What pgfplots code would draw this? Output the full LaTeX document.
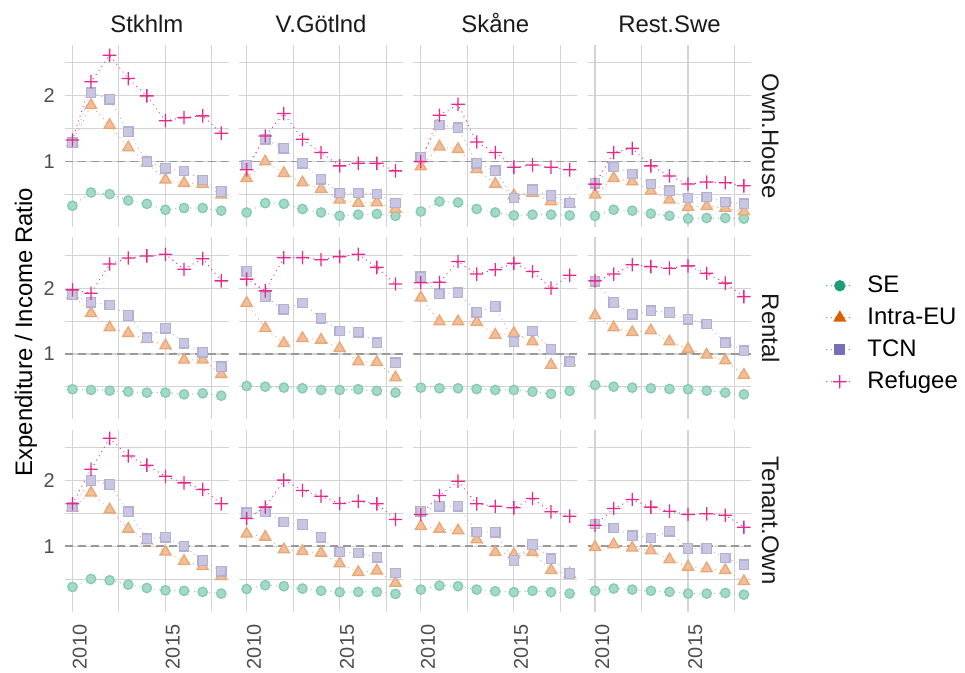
\documentclass[border=0pt]{standalone}
\usepackage{fontspec}
\setmainfont{Liberation Sans}
\usepackage{pgfplots}
\usepackage{pgfplotstable}
\pgfplotsset{compat=1.18}
\definecolor{cSE}{HTML}{1B9E77}
\definecolor{cEU}{HTML}{D95F02}
\definecolor{cTCN}{HTML}{7570B3}
\definecolor{cREF}{HTML}{E7298A}
\colorlet{fSE}{cSE!40!white}
\colorlet{fEU}{cEU!40!white}
\colorlet{fTCN}{cTCN!40!white}
\colorlet{dSE}{cSE!55!white}
\colorlet{dEU}{cEU!55!white}
\colorlet{dTCN}{cTCN!55!white}
\definecolor{gridc}{HTML}{D3D3D3}
\definecolor{ticktext}{HTML}{4D4D4D}
\definecolor{striptext}{HTML}{1A1A1A}

\pgfdeclareplotmark{fplus}{%
  \pgfpathrectangle{\pgfpoint{-\pgfplotmarksize}{-0.65bp}}{\pgfpoint{2\pgfplotmarksize}{1.3bp}}%
  \pgfpathrectangle{\pgfpoint{-0.65bp}{-\pgfplotmarksize}}{\pgfpoint{1.3bp}{2\pgfplotmarksize}}%
  \pgfusepathqfill}

% Own.House
\pgfplotstableread{
year SE EU TCN REF
2010 0.628 1.22 1.22 1.256
2011 0.722 1.81 2.07 2.32
2012 0.71 1.47 1.93 3.07
2013 0.664 1.16 1.37 2.40
2014 0.641 0.99 1.00 2.00
2015 0.602 0.825 0.933 1.54
2016 0.613 0.797 0.907 1.59
2017 0.613 0.79 0.825 1.62
2018 0.596 0.705 0.73 1.35
}\hSt
\pgfplotstableread{
year SE EU TCN REF
2010 0.585 0.84 0.966 0.917
2011 0.646 1.0 1.265 1.31
2012 0.641 0.885 1.15 1.66
2013 0.607 0.802 0.983 1.265
2014 0.585 0.749 0.831 1.10
2015 0.565 0.669 0.718 0.956
2016 0.572 0.646 0.718 0.983
2017 0.576 0.65 0.71 0.983
2018 0.565 0.607 0.646 0.907
}\hVG
\pgfplotstableread{
year SE EU TCN REF
2010 0.591 0.949 1.05 1.0
2011 0.657 1.17 1.47 1.63
2012 0.65 1.14 1.43 1.83
2013 0.607 0.923 0.983 1.23
2014 0.585 0.79 0.91 1.10
2015 0.567 0.70 0.681 0.943
2016 0.572 0.718 0.743 0.966
2017 0.572 0.657 0.70 0.943
2018 0.567 0.641 0.646 0.917
}\hSk
\pgfplotstableread{
year SE EU TCN REF
2010 0.565 0.705 0.797 0.789
2011 0.602 0.84 0.949 1.10
2012 0.596 0.81 0.879 1.15
2013 0.578 0.735 0.79 0.956
2014 0.565 0.669 0.735 0.86
2015 0.548 0.619 0.681 0.79
2016 0.552 0.625 0.688 0.806
2017 0.552 0.613 0.653 0.80
2018 0.548 0.591 0.641 0.775
}\hRS
% Rental
\pgfplotstableread{
year SE EU TCN REF
2010 0.689 1.864 1.864 1.965
2011 0.684 1.536 1.725 1.897
2012 0.679 1.32 1.677 2.58
2013 0.672 1.244 1.499 2.75
2014 0.665 1.167 1.188 2.81
2015 0.665 1.092 1.311 2.86
2016 0.653 0.939 1.119 2.44
2017 0.66 0.939 1.018 2.73
2018 0.644 0.807 0.875 2.16
}\rSt
\pgfplotstableread{
year SE EU TCN REF
2010 0.713 1.71 2.385 2.20
2011 0.708 1.311 1.83 1.944
2012 0.701 1.119 1.60 2.76
2013 0.696 1.18 1.71 2.76
2014 0.684 1.159 1.457 2.70
2015 0.684 1.061 1.275 2.79
2016 0.689 0.922 1.257 2.86
2017 0.677 0.916 1.127 2.49
2018 0.665 0.779 0.913 2.09
}\rVG
\pgfplotstableread{
year SE EU TCN REF
2010 0.701 1.81 2.26 2.12
2011 0.696 1.407 1.884 2.13
2012 0.696 1.407 1.91 2.65
2013 0.691 1.40 1.553 2.32
2014 0.684 1.222 1.648 2.43
2015 0.684 1.244 1.139 2.60
2016 0.672 1.139 1.275 2.385
2017 0.656 0.89 1.05 2.0
2018 0.677 0.916 0.922 2.29
}\rSk
\pgfplotstableread{
year SE EU TCN REF
2010 0.721 1.499 2.15 2.16
2011 0.708 1.32 1.72 2.32
2012 0.701 1.257 1.52 2.56
2013 0.696 1.279 1.575 2.51
2014 0.691 1.139 1.547 2.47
2015 0.689 1.054 1.442 2.53
2016 0.679 0.99 1.373 2.34
2017 0.665 0.932 1.127 2.11
2018 0.653 0.801 1.036 1.83
}\rRS
% Tenant.Own
\pgfplotstableread{
year SE EU TCN REF
2010 0.651 1.50 1.51 1.564
2011 0.708 1.756 2.0 2.25
2012 0.698 1.47 1.917 3.12
2013 0.667 1.20 1.437 2.59
2014 0.644 1.061 1.084 2.35
2015 0.628 0.942 1.1 2.09
2016 0.625 0.854 1.0 1.95
2017 0.618 0.81 0.86 1.82
2018 0.607 0.728 0.768 1.564
}\tSt
\pgfplotstableread{
year SE EU TCN REF
2010 0.637 1.139 1.422 1.339
2011 0.663 1.103 1.437 1.51
2012 0.656 0.965 1.293 2.007
2013 0.64 0.949 1.257 1.80
2014 0.625 0.932 1.1 1.695
2015 0.616 0.833 0.942 1.569
2016 0.618 0.76 0.932 1.608
2017 0.618 0.773 0.89 1.564
2018 0.605 0.679 0.755 1.325
}\tVG
\pgfplotstableread{
year SE EU TCN REF
2010 0.633 1.235 1.447 1.397
2011 0.66 1.20 1.525 1.707
2012 0.656 1.18 1.525 1.986
2013 0.633 1.073 1.163 1.564
2014 0.622 0.939 1.159 1.525
2015 0.616 0.916 0.86 1.499
2016 0.625 0.939 1.018 1.654
2017 0.616 0.776 0.878 1.437
2018 0.607 0.747 0.75 1.373
}\tSk
\pgfplotstableread{
year SE EU TCN REF
2010 0.625 0.99 1.266 1.248
2011 0.64 1.018 1.213 1.489
2012 0.633 0.983 1.119 1.637
2013 0.625 0.955 1.092 1.51
2014 0.618 0.869 1.171 1.447
2015 0.607 0.804 0.976 1.397
2016 0.607 0.79 0.976 1.407
2017 0.611 0.776 0.884 1.387
2018 0.6 0.691 0.824 1.222
}\tRS

\pgfplotsset{
  myfacet/.style={
    width=163.7bp, height=182bp, scale only axis, anchor=south west,
    xmin=2009.6, xmax=2018.4, ymin=0.502, ymax=3.42,
    axis line style={draw=none}, major tick length=0pt, minor tick length=0pt,
    xtick={2010,2015}, minor xtick={2012.5,2017.5},
    ytick={1,2}, minor ytick={0.70711,1.41421,2.82843},
    xticklabels={}, yticklabels={},
    grid=both,
    major grid style={draw=gridc, line width=1.2bp},
    minor grid style={draw=gridc, line width=1.0bp},
    tick label style={font=\fontsize{20}{24}\selectfont, text=ticktext},
    yticklabel style={anchor=east, inner sep=0pt, xshift=-10bp},
    xticklabel style={yshift=-13bp, rotate=90, anchor=north east, inner sep=0pt},
  },
  refline/.style={draw=black!40, line width=1.5bp, dash pattern=on 8bp off 5bp, mark=none},
  sSE/.style={draw=dSE, line width=1.3bp, line cap=round, dash pattern=on 0pt off 5bp,
    mark=*, mark size=4.7bp, mark options={solid, draw=none, fill=fSE}},
  sEU/.style={draw=dEU, line width=1.3bp, line cap=round, dash pattern=on 0pt off 5bp,
    mark=triangle*, mark size=6.4bp, mark options={solid, draw=none, fill=fEU}},
  sTCN/.style={draw=dTCN, line width=1.3bp, line cap=round, dash pattern=on 0pt off 5bp,
    mark=square*, mark size=4.7bp, mark options={solid, draw=none, fill=fTCN}},
  sREF/.style={draw=cREF, line width=1.3bp, line cap=round, dash pattern=on 0pt off 5bp,
    mark=fplus, mark size=6.7bp, mark options={solid, draw=none, fill=cREF}},
  lSE/.style={draw=cSE, line width=1.3bp, line cap=round, dash pattern=on 0pt off 4.5bp,
    mark=*, mark size=5bp, mark options={solid, draw=none, fill=cSE}},
  lEU/.style={draw=cEU, line width=1.3bp, line cap=round, dash pattern=on 0pt off 4.5bp,
    mark=triangle*, mark size=6.2bp, mark options={solid, draw=none, fill=cEU}},
  lTCN/.style={draw=cTCN, line width=1.3bp, line cap=round, dash pattern=on 0pt off 4.5bp,
    mark=square*, mark size=4.7bp, mark options={solid, draw=none, fill=cTCN}},
  lREF/.style={draw=cREF, line width=1.3bp, line cap=round, dash pattern=on 0pt off 4.5bp,
    mark=fplus, mark size=6.7bp, mark options={solid, draw=none, fill=cREF}},
}

\newcommand{\series}[1]{%
  \addplot[refline, forget plot] coordinates {(2009.6,1) (2018.4,1)};
  \addplot[sSE, forget plot] table[x=year,y=SE] {#1};
  \addplot[sEU, forget plot] table[x=year,y=EU] {#1};
  \addplot[sTCN, forget plot] table[x=year,y=TCN] {#1};
  \addplot[sREF, forget plot] table[x=year,y=REF] {#1};
}

\begin{document}
\begin{tikzpicture}
\useasboundingbox (0,0) rectangle (965bp,673bp);
\fill[white] (0,0) rectangle (965bp,673bp);

% Row 1: Own.House
\begin{semilogyaxis}[myfacet, at={(65bp,446bp)}, yticklabels={1,2}] \series{\hSt} \end{semilogyaxis}
\begin{semilogyaxis}[myfacet, at={(239.2bp,446bp)}] \series{\hVG} \end{semilogyaxis}
\begin{semilogyaxis}[myfacet, at={(413.4bp,446bp)}] \series{\hSk} \end{semilogyaxis}
\begin{semilogyaxis}[myfacet, at={(587.6bp,446bp)}] \series{\hRS} \end{semilogyaxis}

% Row 2: Rental
\begin{semilogyaxis}[myfacet, at={(65bp,253.7bp)}, yticklabels={1,2}] \series{\rSt} \end{semilogyaxis}
\begin{semilogyaxis}[myfacet, at={(239.2bp,253.7bp)}] \series{\rVG} \end{semilogyaxis}
\begin{semilogyaxis}[myfacet, at={(413.4bp,253.7bp)}] \series{\rSk} \end{semilogyaxis}
\begin{semilogyaxis}[myfacet, at={(587.6bp,253.7bp)},
  legend image code/.code={\draw[mark repeat=2,mark phase=2,#1] plot coordinates {(0bp,0bp) (13bp,0bp) (26bp,0bp)};},
  legend style={draw=none, fill=none, at={(1.456,0.47)}, anchor=west, inner sep=0pt,
    font=\fontsize{24}{28}\selectfont, row sep=9.5bp, column sep=14bp,
    nodes={inner sep=0pt, text height=17.5bp, text depth=5bp}},
  legend cell align=left]
  \series{\rRS}
  \addlegendimage{lSE}\addlegendentry{SE}
  \addlegendimage{lEU}\addlegendentry{Intra-EU}
  \addlegendimage{lTCN}\addlegendentry{TCN}
  \addlegendimage{lREF}\addlegendentry{Refugee}
\end{semilogyaxis}

% Row 3: Tenant.Own
\begin{semilogyaxis}[myfacet, at={(65bp,61.4bp)}, yticklabels={1,2}, xticklabels={2010,2015}] \series{\tSt} \end{semilogyaxis}
\begin{semilogyaxis}[myfacet, at={(239.2bp,61.4bp)}, xticklabels={2010,2015}] \series{\tVG} \end{semilogyaxis}
\begin{semilogyaxis}[myfacet, at={(413.4bp,61.4bp)}, xticklabels={2010,2015}] \series{\tSk} \end{semilogyaxis}
\begin{semilogyaxis}[myfacet, at={(587.6bp,61.4bp)}, xticklabels={2010,2015}] \series{\tRS} \end{semilogyaxis}

% strip labels
\begin{scope}[every node/.style={font=\fontsize{24}{28}\selectfont, text=striptext}]
\node[anchor=base] at (146.85bp,640bp) {Stkhlm};
\node[anchor=base] at (321.05bp,640bp) {V.Götlnd};
\node[anchor=base] at (495.25bp,640bp) {Skåne};
\node[anchor=base] at (669.45bp,640bp) {Rest.Swe};
\node[anchor=base, rotate=-90] at (762bp,537bp) {Own.House};
\node[anchor=base, rotate=-90] at (762bp,344.7bp) {Rental};
\node[anchor=base, rotate=-90] at (762bp,152.4bp) {Tenant.Own};
\end{scope}
\node[anchor=base, rotate=90, font=\fontsize{24}{28}\selectfont] at (32bp,341bp) {Expenditure / Income Ratio};
\end{tikzpicture}
\end{document}
